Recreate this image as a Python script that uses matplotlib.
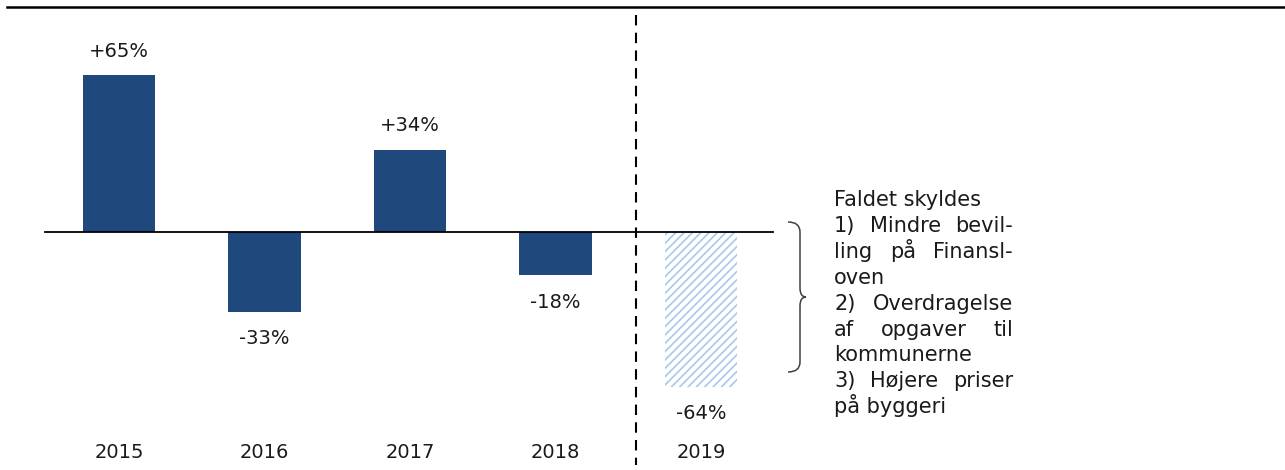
import matplotlib.pyplot as plt
from matplotlib.path import Path
from matplotlib.patches import PathPatch

plt.rcParams['font.family'] = ['DejaVu Sans']
plt.rcParams['hatch.linewidth'] = 1.2

years = ['2015', '2016', '2017', '2018', '2019']
changes = [65, -33, 34, -18, -64]
labels = ['+65%', '-33%', '+34%', '-18%', '-64%']
note_lines = ['Faldet skyldes', '1) Mindre bevil-', 'ling på Finansl-', 'oven',
              '2) Overdragelse', 'af opgaver til', 'kommunerne',
              '3) Højere priser', 'på byggeri']
justified = [False, True, True, False, True, True, False, True, False]

W, H = 1285, 470
fig = plt.figure(figsize=(W / 100, H / 100), dpi=100)
ax = fig.add_axes([0, 0, 1, 1])
ax.set_axis_off()

# pixel layout: bar centres 145.5 px apart, zero line at y=232, 2.415 px per %-point
px_per_unit = 2.415
ax.set_xlim(-119 / 145.5, (W - 119) / 145.5)
ax.set_ylim(-(H - 232) / px_per_unit, 232 / px_per_unit)

x = list(range(len(years)))
dark = '#1f497d'
ax.bar(x[:4], changes[:4], width=0.5, color=dark, zorder=2)
ax.bar(x[4], changes[4], width=0.5, facecolor='white', edgecolor='#a9c8ea',
       hatch='////', linewidth=0, zorder=2)

# zero line
ax.plot([(45 - 119) / 145.5, (773 - 119) / 145.5], [0, 0], color='black', lw=1.3, zorder=3)
# dashed separator
ax.plot([(636 - 119) / 145.5] * 2, [(232 - 15) / px_per_unit, -(465 - 232) / px_per_unit],
        color='black', lw=1.5, dashes=(5, 3.5))
# top rule
fig.add_artist(plt.Line2D([7 / W, 1], [1 - 7 / H, 1 - 7 / H], color='black', lw=1.8))

fs = 14
for xi, v, lab, yr in zip(x, changes, labels, years):
    off = 24 if v > 0 else -27
    ax.annotate(lab, (xi, v), xytext=(0, off), textcoords='offset pixels',
                ha='center', va='center', fontsize=fs, color='#1a1a1a')
    ax.text(xi, -(452 - 232) / px_per_unit, yr, ha='center', va='center',
            fontsize=fs, color='#1a1a1a')

# brace
bx = [788, 800, 800, 800, 800, 806, 800, 800, 800, 800, 788]
by = [222, 222, 232, 288, 297, 297, 297, 306, 362, 372, 372]
codes = [Path.MOVETO, Path.CURVE3, Path.CURVE3, Path.LINETO, Path.CURVE3, Path.CURVE3,
         Path.CURVE3, Path.CURVE3, Path.LINETO, Path.CURVE3, Path.CURVE3]
verts = [(a / W, 1 - b / H) for a, b in zip(bx, by)]
fig.add_artist(PathPatch(Path(verts, codes), transform=fig.transFigure,
                         fill=False, edgecolor='#404040', lw=1.1))

# justified note text
nfs = 15
x0, x1 = 834, 1013
fig.canvas.draw()
renderer = fig.canvas.get_renderer()
for i, (line, just) in enumerate(zip(note_lines, justified)):
    yb = 1 - (206 + 25.9 * i) / H
    if not just:
        fig.text(x0 / W, yb, line, ha='left', va='baseline', fontsize=nfs, color='#1a1a1a')
        continue
    words = line.split(' ')
    arts = [fig.text(0, yb, w, ha='left', va='baseline', fontsize=nfs, color='#1a1a1a')
            for w in words]
    widths = [a.get_window_extent(renderer).width for a in arts]
    gap = (x1 - x0 - sum(widths)) / (len(words) - 1)
    pos = x0
    for a, wd in zip(arts, widths):
        a.set_x(pos / W)
        pos += wd + gap

fig.savefig('out.png', dpi=100)
